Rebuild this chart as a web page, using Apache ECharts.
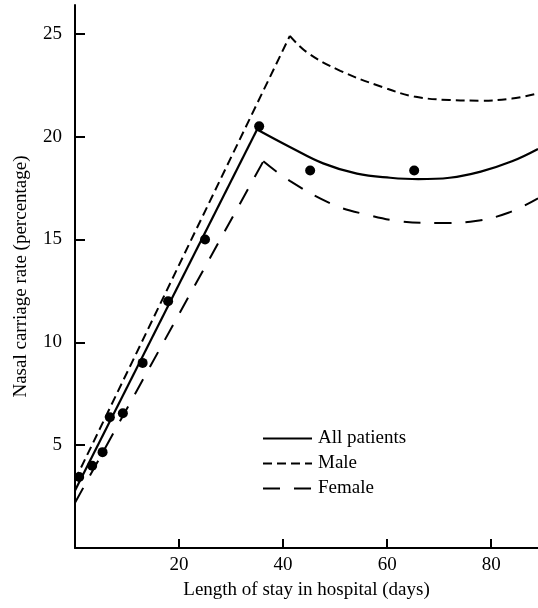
<!DOCTYPE html>
<html>
<head>
<meta charset="utf-8">
<script src="https://cdn.jsdelivr.net/npm/echarts@6/dist/echarts.min.js"></script>
<style>
  html, body { margin: 0; padding: 0; background: #fff; }
  #chart { width: 538px; height: 608px; }
</style>
</head>
<body>
<div id="chart"></div>
<script>

// values (days, percentage)
var dotsX = [0.8, 3.3, 5.3, 6.7, 9.2, 13, 17.9, 25, 35.4, 45.2, 65.2];
var dotsY = [3.45, 4.0, 4.66, 6.36, 6.55, 9.0, 12.0, 15.0, 20.5, 18.35, 18.35];

var allRise = [[0, 2.8], [35, 20.35]];
var allFall = [[35, 20.35], [41.3, 19.5], [47.7, 18.7], [54.2, 18.2], [60.6, 18.0], [66, 17.93],
               [72, 18.0], [78, 18.3], [84, 18.8], [89, 19.4]];

var maleRise = [[0, 3.3], [41.3, 24.9]];
var maleFall = [[41.3, 24.9], [44.6, 24.1], [51, 23.2], [59.2, 22.4], [65.2, 21.95], [72, 21.78],
                [78, 21.75], [84, 21.85], [89, 22.1]];

var femaleRise = [[0, 2.2], [36.2, 18.8]];
var femaleFall = [[36.2, 18.8], [41.3, 17.85], [49.6, 16.7], [56.2, 16.2], [62.7, 15.88], [70, 15.8],
                  [77, 15.9], [83.3, 16.3], [89, 17.0]];

var seriesNames = ['All patients', 'Male', 'Female'];
var xTicks = [20, 40, 60, 80];
var yTicks = [5, 10, 15, 20, 25];

var font = 'Liberation Serif';

var solid = { color: '#000', width: 2.2, type: 'solid' };
var shortDash = { color: '#000', width: 2, type: [9, 5] };
var longDash = { color: '#000', width: 2, type: [17, 14] };

function lineSeries(name, data, style, smooth) {
    return {
        name: name,
        type: 'line',
        data: data,
        symbol: 'none',
        smooth: smooth ? 0.4 : false,
        lineStyle: style,
        itemStyle: { color: '#000' },
        z: 2
    };
}

var chart = echarts.init(document.getElementById('chart'), null, { renderer: 'canvas' });

var option = {
    animation: false,
    backgroundColor: '#fff',
    grid: { left: 75, right: 0, top: 5, bottom: 60 },
    legend: {
        data: seriesNames,
        orient: 'vertical',
        left: 257,
        top: 424,
        itemWidth: 49,
        itemHeight: 14,
        itemGap: 6,
        itemStyle: { color: 'rgba(0,0,0,0)', borderWidth: 0, opacity: 0 },
        textStyle: { fontFamily: font, fontSize: 19, color: '#000', padding: [0, 0, 0, 1] }
    },
    xAxis: {
        type: 'value',
        min: 0,
        max: 89,
        name: 'Length of stay in hospital (days)',
        nameLocation: 'middle',
        nameGap: 33,
        nameTextStyle: { fontFamily: font, fontSize: 19, color: '#000' },
        axisLine: { show: true, lineStyle: { color: '#000', width: 2 } },
        axisTick: { show: true, inside: true, length: 9, customValues: xTicks, lineStyle: { color: '#000', width: 2 } },
        axisLabel: { customValues: xTicks, margin: 8, fontFamily: font, fontSize: 19, color: '#000' },
        splitLine: { show: false }
    },
    yAxis: {
        type: 'value',
        min: 0,
        max: 26.4,
        name: 'Nasal carriage rate (percentage)',
        nameLocation: 'middle',
        nameGap: 44,
        nameTextStyle: { fontFamily: font, fontSize: 19, color: '#000' },
        axisLine: { show: true, lineStyle: { color: '#000', width: 2 } },
        axisTick: { show: true, inside: true, length: 10, customValues: yTicks, lineStyle: { color: '#000', width: 2 } },
        axisLabel: { customValues: yTicks, margin: 13, fontFamily: font, fontSize: 19, color: '#000' },
        splitLine: { show: false }
    },
    series: [
        lineSeries(seriesNames[0], allRise, solid, false),
        lineSeries(seriesNames[0], allFall, solid, true),
        lineSeries(seriesNames[1], maleRise, shortDash, false),
        lineSeries(seriesNames[1], maleFall, shortDash, true),
        lineSeries(seriesNames[2], femaleRise, longDash, false),
        lineSeries(seriesNames[2], femaleFall, longDash, true),
        {
            name: 'Observed',
            type: 'scatter',
            data: dotsX.map(function (x, i) { return [x, dotsY[i]]; }),
            symbol: 'circle',
            symbolSize: 10,
            itemStyle: { color: '#000', opacity: 1 },
            z: 3
        }
    ]
};

chart.setOption(option);
</script>
</body>
</html>
